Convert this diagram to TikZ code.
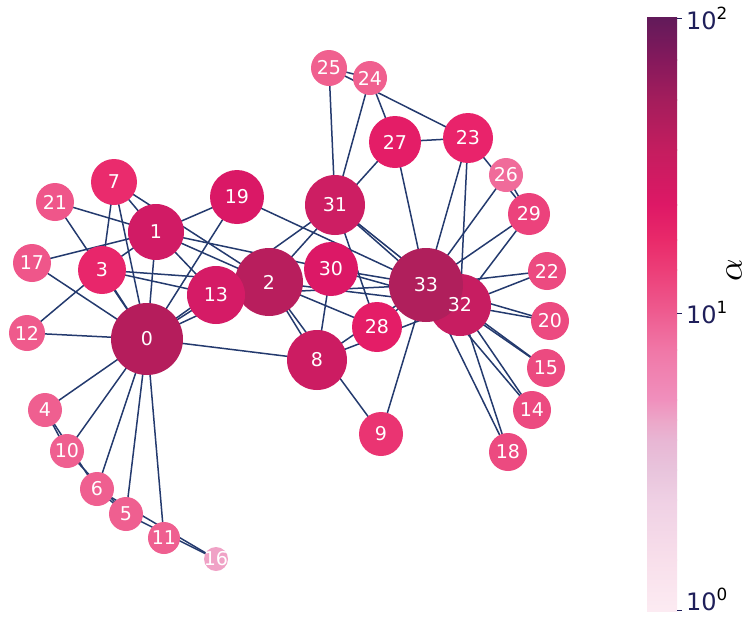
\documentclass[tikz,border=0pt]{standalone}
\usepackage{fontspec}
\setmainfont{DejaVu Sans}
\usetikzlibrary{backgrounds}
\definecolor{edgec}{HTML}{243A6E}
\definecolor{tickc}{HTML}{1F1F5A}
\definecolor{k0}{HTML}{B51D5C}\definecolor{k1}{HTML}{D11B65}\definecolor{k2}{HTML}{B81E5D}
\definecolor{k3}{HTML}{E8266B}\definecolor{k4}{HTML}{EF5F90}\definecolor{k5}{HTML}{EF5F90}
\definecolor{k6}{HTML}{EF5F90}\definecolor{k7}{HTML}{EA2B6D}\definecolor{k8}{HTML}{CC1C62}
\definecolor{k9}{HTML}{EA3472}\definecolor{k10}{HTML}{EF5F90}\definecolor{k11}{HTML}{EF5F90}
\definecolor{k12}{HTML}{EF5A8C}\definecolor{k13}{HTML}{D51B66}\definecolor{k14}{HTML}{EC4A80}
\definecolor{k15}{HTML}{EC4A80}\definecolor{k16}{HTML}{F0A2C6}\definecolor{k17}{HTML}{EF568A}
\definecolor{k18}{HTML}{EC4A80}\definecolor{k19}{HTML}{DA1866}\definecolor{k20}{HTML}{EC4A80}
\definecolor{k21}{HTML}{EF568A}\definecolor{k22}{HTML}{EC4A80}\definecolor{k23}{HTML}{E9236B}
\definecolor{k24}{HTML}{F0608F}\definecolor{k25}{HTML}{F0608F}\definecolor{k26}{HTML}{F06B9A}
\definecolor{k27}{HTML}{E41D67}\definecolor{k28}{HTML}{E41D67}\definecolor{k29}{HTML}{EC427C}
\definecolor{k30}{HTML}{DC1866}\definecolor{k31}{HTML}{CD1E63}\definecolor{k32}{HTML}{C71D61}
\definecolor{k33}{HTML}{B01F5C}
\tikzset{
  vtx/.style={circle,inner sep=0pt,minimum size=#1},
  lbl/.style={text=white,inner sep=0pt,font=\fontsize{19}{19}\selectfont},
  edge/.style={draw=edgec,line width=1.5pt},
  tick/.style={draw=tickc,line width=0.8pt},
  ticklbl/.style={text=tickc,inner sep=0pt,anchor=base west,font=\fontsize{24}{24}\selectfont}
}
\begin{document}
\begin{tikzpicture}[x=1pt,y=-1pt]
\useasboundingbox (0,0) rectangle (748,619);
% vertices: name/x/y/diameter
\foreach \i/\x/\y/\d in {
0/147/339/72, 1/156/232/56, 2/269/282/68, 3/102/270/48, 4/45/410/34,
5/126/514/34, 6/97/489/34, 7/114/182/46, 8/317/360/60, 9/381/434/44,
10/67/451/34, 11/164/538/32, 12/27/333/36, 13/216/295/58, 14/532/410/38,
15/546/368/38, 16/216/559/24, 17/32/263/38, 18/508/452/38, 19/237/197/54,
20/550/321/38, 21/55/202/38, 22/547/271/38, 23/468/138/50, 24/370/78/34,
25/329/68/36, 26/506/175/34, 27/395/142/52, 28/377/327/50, 29/529/214/42,
30/331/269/54, 31/335/205/60, 32/460/305/62, 33/426/285/74}
  \node[vtx=\d pt,fill=k\i] (n\i) at (\x,\y) {};
\foreach \i in {0,...,33}
  \node[lbl] at (n\i) {\i};
% edges
\begin{scope}[on background layer]
\foreach \a/\b in {0/1,0/2,0/3,0/4,0/5,0/6,0/7,0/8,0/10,0/11,0/12,0/13,0/17,0/19,0/21,0/31,
1/2,1/3,1/7,1/13,1/17,1/19,1/21,1/30,
2/3,2/7,2/8,2/9,2/13,2/27,2/28,2/32,
3/7,3/12,3/13,4/6,4/10,5/6,5/10,5/16,6/16,
8/30,8/32,8/33,9/33,13/33,14/32,14/33,15/32,15/33,18/32,18/33,19/33,20/32,20/33,
22/32,22/33,23/25,23/27,23/29,23/32,23/33,24/25,24/27,24/31,25/31,26/29,26/33,
27/33,28/31,28/33,29/32,29/33,30/32,30/33,31/32,31/33,32/33}
  \draw[edge] (n\a.center) -- (n\b.center);
\end{scope}
% colour bar
\foreach \ya/\ca/\yb/\cb in {
611/FCEBF2/560/F8DFEB, 560/F8DFEB/500/EFD0E4, 500/EFD0E4/470/E8C4DC,
470/E8C4DC/440/E8B6D4, 440/E8B6D4/420/ECA6C8, 420/ECA6C8/400/F090BD,
400/F090BD/350/F077A7, 350/F077A7/313/EE5C90, 313/EE5C90/270/EC3E78,
270/EC3E78/240/E92A6A, 240/E92A6A/205/DE1866, 205/DE1866/150/C41D5F,
150/C41D5F/100/A41D5C, 100/A41D5C/60/85195C, 60/85195C/18/621A5A}
{
  \definecolor{cbot}{HTML}{\ca}\definecolor{ctop}{HTML}{\cb}
  \shade[bottom color=cbot,top color=ctop] (647,\ya+0.4) rectangle (677,\yb-0.4);
}
\coordinate (t2) at (677,18);
\coordinate (t1) at (677,313);
\coordinate (t0) at (677,610);
\draw[tick] (t2) -- ++(5,0);
\draw[tick] (t1) -- ++(5,0);
\draw[tick] (t0) -- ++(5,0);
\node[ticklbl] (l2) at (686,29) {10\textsuperscript{\color{black}2}};
\node[ticklbl] (l1) at (686,323) {10\textsuperscript{\color{black}1}};
\node[ticklbl] (l0) at (686,610) {10\textsuperscript{\color{black}0}};
\node[rotate=90,inner sep=0pt,scale=3.5] (al) at (734,270) {$\alpha$};
\end{tikzpicture}
\end{document}
